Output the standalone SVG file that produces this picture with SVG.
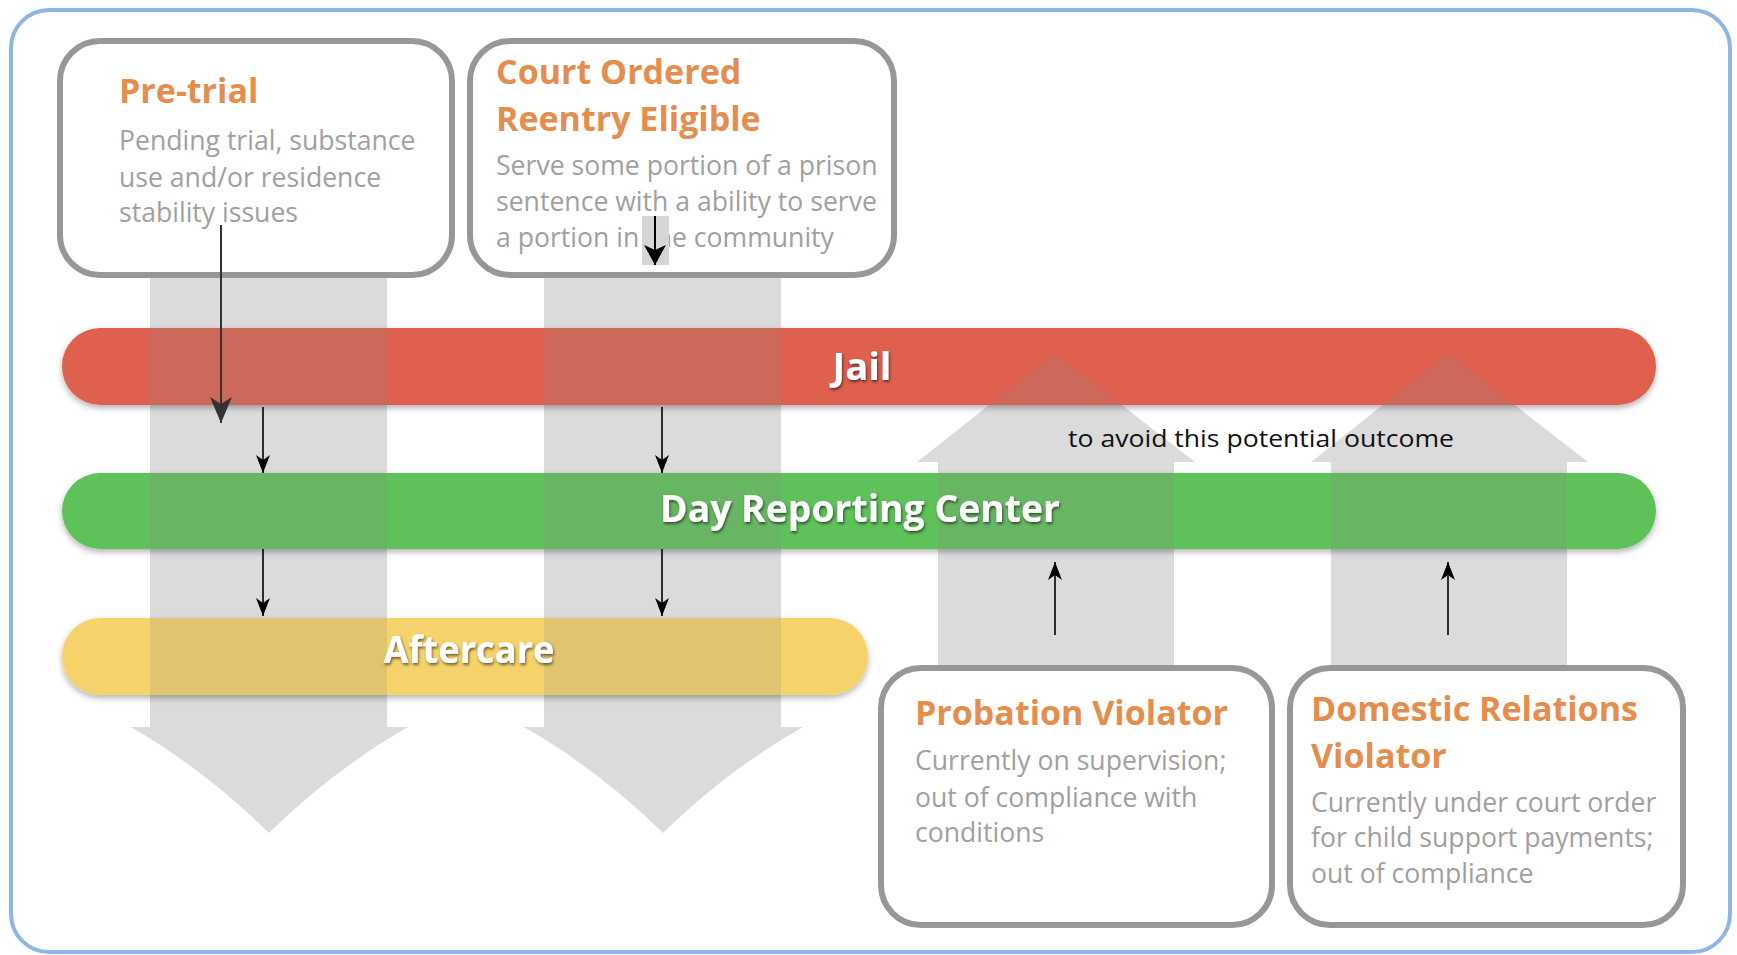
<svg xmlns="http://www.w3.org/2000/svg" xmlns:xlink="http://www.w3.org/1999/xlink" width="1737" height="955" viewBox="0 0 1737 955">
<style>
.box{fill:#fff;stroke:#979797;stroke-width:6}
.title{font-family:"Open Sans","Liberation Sans",sans-serif;font-weight:700;font-size:34px;fill:#e58d4d}
.body{font-family:"Open Sans","Liberation Sans",sans-serif;font-weight:400;font-size:26.6px;fill:#a0a0a0}
.bartxt{font-family:"Open Sans","Liberation Sans",sans-serif;font-weight:700;font-size:38px;fill:#fff;text-anchor:middle}
.conn{stroke:#000;stroke-width:1.6;fill:none}
.note{font-family:"Open Sans","Liberation Sans",sans-serif;font-size:24px;fill:#111}
</style>
<defs>
<filter id="barShadow" x="-5%" y="-30%" width="110%" height="170%">
<feDropShadow dx="0" dy="3" stdDeviation="3" flood-color="#000" flood-opacity="0.3"/>
</filter>
<filter id="txtShadow" x="-10%" y="-30%" width="120%" height="170%">
<feDropShadow dx="1" dy="2" stdDeviation="1.5" flood-color="#000" flood-opacity="0.55"/>
</filter>
<marker id="arrSmall" markerUnits="userSpaceOnUse" viewBox="0 0 18 14" markerWidth="18" markerHeight="14" refX="18" refY="7" orient="auto">
<path d="M0,0 L18,7 L0,14 L5,7 Z" fill="#000"/>
</marker>
<marker id="arrBig" markerUnits="userSpaceOnUse" viewBox="0 0 26 22" markerWidth="26" markerHeight="22" refX="26" refY="11" orient="auto">
<path d="M0,0 L26,11 L0,22 L7,11 Z" fill="#333"/>
</marker>
<marker id="arrMid" markerUnits="userSpaceOnUse" viewBox="0 0 20 22" markerWidth="20" markerHeight="22" refX="20" refY="11" orient="auto">
<path d="M0,0 L20,11 L0,22 L5,11 Z" fill="#000"/>
</marker>
<g id="grayArrows">
<path d="M150,270 V727 H131 Q205,770 269,833 Q333,770 408,727 H387 V270 Z"/>
<path d="M544,270 V727 H524 Q599,770 663,833 Q727,770 803,727 H781 V270 Z"/>
<path d="M938,675 V462 H917 L1055,353 L1195,462 H1174 V675 Z"/>
<path d="M1331,675 V462 H1311 L1448,353 L1588,462 H1567 V675 Z"/>
</g>
<clipPath id="barsClip">
<rect x="62" y="328" width="1594" height="77" rx="38"/>
<rect x="62" y="473" width="1594" height="76" rx="38"/>
<rect x="62" y="618" width="806" height="77" rx="38"/>
</clipPath>
</defs>

<rect id="frame" x="11" y="10" width="1719" height="942" rx="38" fill="#fff" stroke="#8fb6e3" stroke-width="4"/>

<use id="flowArrows" xlink:href="#grayArrows" fill="#dcdbdc"/>

<g id="jail">
<rect x="62" y="328" width="1594" height="77" rx="38" fill="#df6150" filter="url(#barShadow)"/>
</g>
<g id="day-reporting-center">
<rect x="62" y="473" width="1594" height="76" rx="38" fill="#5ec15a" filter="url(#barShadow)"/>
</g>
<g id="aftercare">
<rect x="62" y="618" width="806" height="77" rx="38" fill="#f5d36b" filter="url(#barShadow)"/>
</g>
<g clip-path="url(#barsClip)">
<use xlink:href="#grayArrows" fill="#8a8a8a" opacity="0.2"/>
</g>
<g id="bar-labels" filter="url(#txtShadow)">
<text class="bartxt" x="862" y="380" textLength="59" lengthAdjust="spacingAndGlyphs">Jail</text>
<text class="bartxt" x="860" y="522" textLength="400" lengthAdjust="spacingAndGlyphs">Day Reporting Center</text>
<text class="bartxt" x="469" y="663" textLength="171" lengthAdjust="spacingAndGlyphs">Aftercare</text>
</g>

<g id="pre-trial">
<rect class="box" x="60" y="41" width="392" height="234" rx="40"/>
<text class="title" x="119" y="103">Pre-trial</text>
<text class="body" x="119" y="150">Pending trial, substance</text>
<text class="body" x="119" y="187">use and/or residence</text>
<text class="body" x="119" y="222">stability issues</text>
</g>

<g id="court-ordered">
<rect class="box" x="470" y="41" width="424" height="234" rx="40"/>
<text class="title" x="496" y="84">Court Ordered</text>
<text class="title" x="496" y="131">Reentry Eligible</text>
<text class="body" x="496" y="175">Serve some portion of a prison</text>
<text class="body" x="496" y="211">sentence with a ability to serve</text>
<text class="body" x="496" y="247">a portion in the community</text>
</g>

<g id="probation-violator">
<rect class="box" x="881" y="668" width="391" height="257" rx="40"/>
<text class="title" x="915" y="725">Probation Violator</text>
<text class="body" x="915" y="770">Currently on supervision;</text>
<text class="body" x="915" y="807">out of compliance with</text>
<text class="body" x="915" y="842">conditions</text>
</g>

<g id="domestic-relations-violator">
<rect class="box" x="1290" y="668" width="393" height="257" rx="40"/>
<text class="title" x="1311" y="721">Domestic Relations</text>
<text class="title" x="1311" y="768">Violator</text>
<text class="body" x="1311" y="812">Currently under court order</text>
<text class="body" x="1311" y="847">for child support payments;</text>
<text class="body" x="1311" y="883">out of compliance</text>
</g>

<text id="avoid-label" class="note" x="1068" y="447" textLength="386" lengthAdjust="spacingAndGlyphs">to avoid this potential outcome</text>

<g id="connectors">
<line x1="221" y1="225" x2="221" y2="423" stroke="#333" stroke-width="2" marker-end="url(#arrBig)"/>
<rect x="642" y="216" width="27" height="49" fill="#d6d6d6"/>
<line x1="655" y1="216" x2="655" y2="265" stroke="#000" stroke-width="2" marker-end="url(#arrMid)"/>
<line class="conn" x1="263" y1="407" x2="263" y2="473" marker-end="url(#arrSmall)"/>
<line class="conn" x1="662" y1="407" x2="662" y2="473" marker-end="url(#arrSmall)"/>
<line class="conn" x1="263" y1="549" x2="263" y2="616" marker-end="url(#arrSmall)"/>
<line class="conn" x1="662" y1="549" x2="662" y2="616" marker-end="url(#arrSmall)"/>
<line class="conn" x1="1055" y1="635" x2="1055" y2="562" marker-end="url(#arrSmall)"/>
<line class="conn" x1="1448" y1="635" x2="1448" y2="562" marker-end="url(#arrSmall)"/>
</g>
</svg>
